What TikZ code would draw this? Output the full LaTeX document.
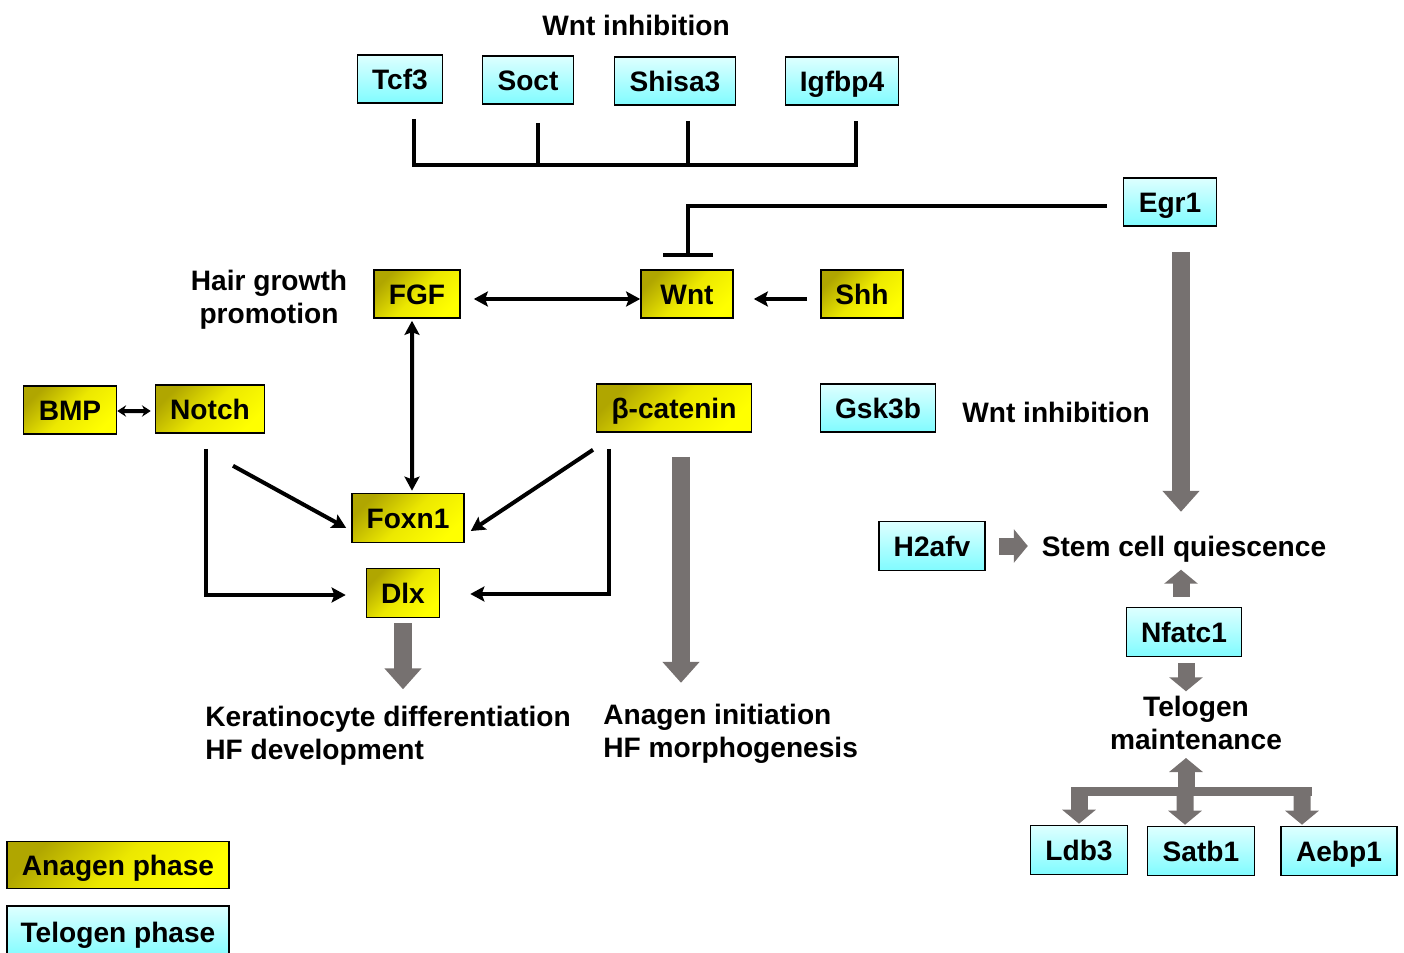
\documentclass[tikz,border=0pt]{standalone}
\usepackage{fontspec}
\setmainfont{Liberation Sans}
\usetikzlibrary{arrows.meta}
\definecolor{olivedark}{RGB}{176,166,0}
\definecolor{olivemid}{RGB}{236,232,0}
\definecolor{brightyel}{RGB}{255,255,0}
\definecolor{cyanlight}{RGB}{222,255,255}
\definecolor{cyandeep}{RGB}{128,252,255}
\definecolor{fatgray}{RGB}{118,113,112}

\begin{document}
\begin{tikzpicture}[x=0.02cm, y=-0.02cm,
    every node/.style={font=\fontsize{16}{19}\selectfont\bfseries},
    >={Stealth[length=8pt,width=8.5pt,inset=1.5pt]},
    gene/.style={draw, line width=0.9pt, minimum height=0.96cm, inner sep=0pt, text height=13pt, text depth=1.6pt},
    anagen/.style={gene, top color=olivedark, bottom color=brightyel, middle color=olivemid, shading angle=45},
    telogen/.style={gene, top color=cyanlight, bottom color=cyandeep},
    note/.style={align=left, anchor=west, inner xsep=0pt},
    link/.style={line width=0.08cm},
    fat/.style={draw=fatgray, line width=0.36cm, -{Triangle[length=0.42cm,width=0.72cm]}},
    fatsm/.style={draw=fatgray, line width=0.34cm, -{Triangle[length=0.28cm,width=0.66cm]}}]
    \useasboundingbox (0,0) rectangle (1404,953);

    % Wnt inhibitors on top
    \node (wi) at (636,25) {Wnt inhibition};
    \node[telogen, minimum width=1.7cm] (tcf3) at (400,79) {Tcf3};
    \node[telogen, minimum width=1.82cm] (soct) at (528,80) {Soct};
    \node[telogen, minimum width=2.42cm] (shisa3) at (675,81) {Shisa3};
    \node[telogen, minimum width=2.26cm] (igfbp4) at (842,81) {Igfbp4};
    \draw[link] ([xshift=.28cm,yshift=-.3cm]tcf3.south) -- ++(0,46) -| ([xshift=.28cm,yshift=-.3cm]igfbp4.south);
    \draw[link] ([xshift=.2cm,yshift=-.36cm]soct.south) -- ++(0,42);
    \draw[link] ([xshift=.26cm,yshift=-.3cm]shisa3.south) -- ++(0,44);

    % anagen network
    \node[anagen, minimum width=1.72cm] (fgf) at (417,294) {FGF};
    \node[anagen, minimum width=1.84cm] (wnt) at (687,294) {Wnt};
    \node[anagen, minimum width=1.64cm] (shh) at (862,294) {Shh};
    \node[align=center] (hair) at (269,300) {Hair growth\\promotion};
    \node[anagen, minimum width=1.86cm] (bmp) at (70,410) {BMP};
    \node[anagen, minimum width=2.18cm] (notch) at (210,409) {Notch};
    \node[anagen, minimum width=3.1cm] (bcat) at (674,408) {β-catenin};
    \node[anagen, minimum width=2.24cm, minimum height=0.98cm] (foxn1) at (408,518) {Foxn1};
    \node[anagen, minimum width=1.46cm, minimum height=0.98cm] (dlx) at (403,593) {Dlx};
    \node[note] (kera) at (205,736) {Keratinocyte differentiation\\HF development};
    \node[note] (anainit) at (603,734) {Anagen initiation\\HF morphogenesis};

    \draw[link, <->] ([xshift=.26cm,yshift=-.1cm]fgf.east) -- ([yshift=-.1cm]wnt.west);
    \draw[link, ->] ([xshift=-.26cm,yshift=-.1cm]shh.west) -- ([xshift=.4cm,yshift=-.1cm]wnt.east);
    \draw[link, {Stealth[length=5pt,width=6.5pt]}-{Stealth[length=5pt,width=6.5pt]}] ([yshift=-.02cm]bmp.east) -- ([xshift=-.08cm,yshift=-.04cm]notch.west);
    \draw[link, <->] ([xshift=-.1cm,yshift=-.04cm]fgf.south) -- ([xshift=.08cm,yshift=.04cm]foxn1.north);
    \draw[link, ->] ([xshift=-.08cm,yshift=-.3cm]notch.south) |- ([xshift=-.4cm,yshift=-.04cm]dlx.west);
    \draw[link, ->] ([xshift=.46cm,yshift=-.64cm]notch.south) -- ([xshift=-.1cm,yshift=-.2cm]foxn1.west);
    \draw[link, ->] ([xshift=-1.62cm,yshift=-.34cm]bcat.south) -- ([xshift=.12cm,yshift=-.26cm]foxn1.east);
    \draw[link, ->] ([xshift=-1.3cm,yshift=-.32cm]bcat.south) |- ([xshift=.6cm,yshift=-.02cm]dlx.east);
    \draw[fat] ([yshift=-.1cm]dlx.south) -- ++(0,66);
    \draw[fat] ([xshift=.14cm,yshift=-.48cm]bcat.south) -- ++(0,226);

    % telogen network
    \node[telogen, minimum width=1.86cm] (egr1) at (1170,202) {Egr1};
    \draw[link, -{Bar[width=1cm]}] ([xshift=-.32cm,yshift=-.08cm]egr1.west) -| ([xshift=.02cm,yshift=.24cm]wnt.north);
    \node[telogen, minimum width=2.3cm] (gsk3b) at (878,408) {Gsk3b};
    \node (wi2) at (1056,412) {Wnt inhibition};
    \node (stem) at (1184,549) {Stem cell quiescence};
    \node[telogen, minimum width=2.12cm, minimum height=0.98cm] (h2afv) at (932,546) {H2afv};
    \node[telogen, minimum width=2.3cm, minimum height=0.98cm] (nfatc1) at (1184,632) {Nfatc1};
    \node[align=center] (telm) at (1196,723) {Telogen\\maintenance};
    \node[telogen, minimum width=1.94cm, minimum height=0.98cm] (ldb3) at (1079,850) {Ldb3};
    \node[telogen, minimum width=2.14cm, minimum height=0.98cm] (satb1) at (1201,851) {Satb1};
    \node[telogen, minimum width=2.32cm, minimum height=0.98cm] (aebp1) at (1339,851) {Aebp1};
    \coordinate (hub) at (1186,791);

    \draw[fat] ([xshift=.22cm,yshift=-.5cm]egr1.south) -- ++(0,260);
    \draw[fatsm] ([xshift=.26cm]h2afv.east) -- ++(29,0);
    \draw[fatsm] ([xshift=-.06cm,yshift=.2cm]nfatc1.north) -- ++(0,-27);
    \draw[fatsm] ([xshift=.04cm,yshift=-.12cm]nfatc1.south) -- ++(0,28);
    \draw[fatgray, line width=0.18cm] ([xshift=-2.3cm]hub) -- ([xshift=2.52cm]hub);
    \draw[fatsm] (hub) -- ++(0,-33);
    \draw[fatsm] (hub -| ldb3.north) -- ([yshift=.02cm]ldb3.north);
    \draw[fatsm] (hub -| satb1.north) ++(-16,0) -- ([xshift=-.32cm,yshift=.02cm]satb1.north);
    \draw[fatsm] (hub -| aebp1.north) ++(-37,0) -- ([xshift=-.74cm,yshift=.02cm]aebp1.north);

    % legend
    \node[anagen, minimum width=4.44cm, minimum height=0.94cm] (lega) at (118,865) {Anagen phase};
    \node[telogen, minimum width=4.44cm, minimum height=1.04cm] (legt) at (118,932) {Telogen phase};
\end{tikzpicture}
\end{document}
